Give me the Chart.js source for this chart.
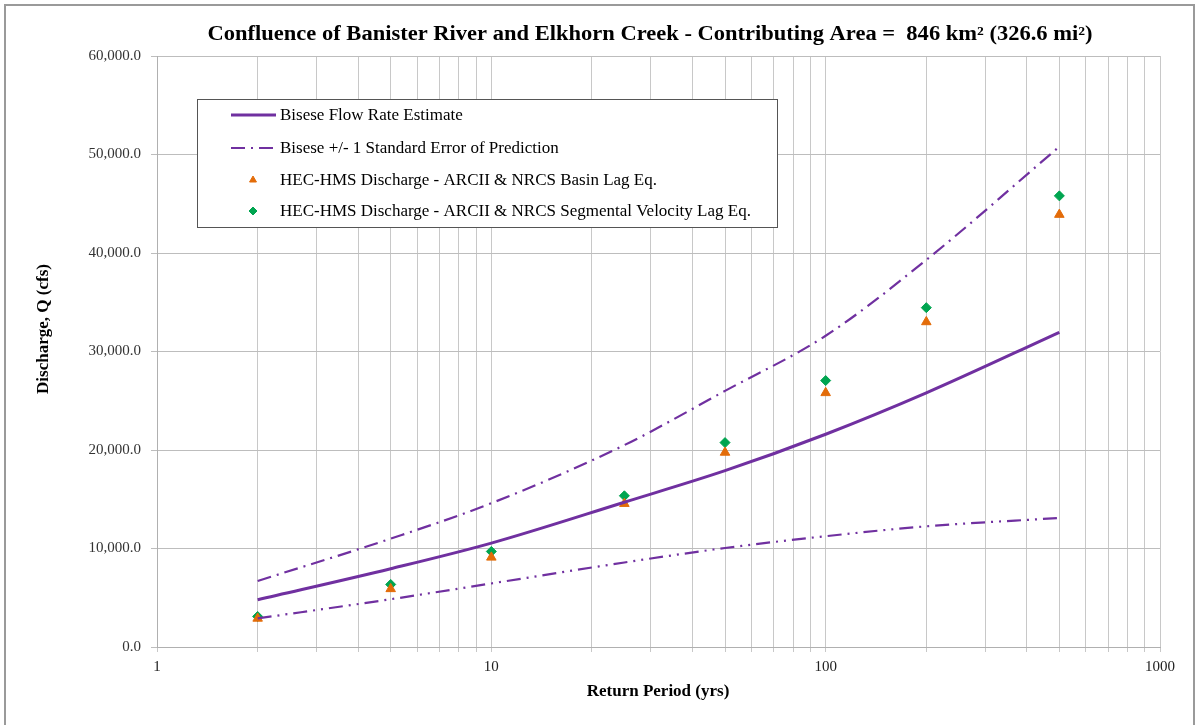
<!DOCTYPE html>
<html><head><meta charset="utf-8">
<script src="https://cdn.jsdelivr.net/npm/chart.js@4.4.1/dist/chart.umd.min.js"></script>
<style>html,body{margin:0;padding:0;background:#fff}#wrap{position:relative;width:1198px;height:725px}</style>
</head><body><div id="wrap"><canvas id="c" width="1198" height="725"></canvas></div>
<script>
const returnPeriods = [2, 5, 10, 25, 50, 100, 200, 500];
const biseseEstimate = [4800, 7950, 10550, 14700, 17900, 21600, 25800, 31950];
const biseseUpper = [6700, 11000, 14600, 20500, 26000, 31600, 39300, 50800];
const biseseLower = [2900, 4850, 6450, 8580, 10050, 11250, 12250, 13100];
const hmsBasinLag = [2900, 5900, 9100, 14550, 19750, 25800, 33000, 43900];
const hmsSegmental = [3100, 6350, 9700, 15350, 20750, 27050, 34450, 45800];
const xTickLabels = ['1', '10', '100', '1000'];
const yTickLabels = ['0.0', '10,000.0', '20,000.0', '30,000.0', '40,000.0', '50,000.0', '60,000.0'];
const chartTitle = 'Confluence of Banister River and Elkhorn Creek - Contributing Area =  846 km\u00B2 (326.6 mi\u00B2)';
const yAxisTitle = 'Discharge, Q (cfs)';
const xAxisTitle = 'Return Period (yrs)';

const pts = arr => returnPeriods.map((x, i) => ({x: x, y: arr[i]}));
const PURPLE = '#7030A0';
const serif = '"Liberation Serif", "DejaVu Serif", serif';

const frame = {
  id: 'frame',
  beforeDraw(chart) {
    const ctx = chart.ctx;
    ctx.save();
    ctx.fillStyle = '#fff';
    ctx.fillRect(0, 0, chart.width, chart.height);
    ctx.strokeStyle = '#9a9a9a';
    ctx.lineWidth = 2;
    ctx.beginPath();
    ctx.moveTo(5, 730); ctx.lineTo(5, 5); ctx.lineTo(1194, 5); ctx.lineTo(1194, 730);
    ctx.stroke();
    ctx.restore();
  }
};

const texts = {
  id: 'texts',
  afterDraw(chart) {
    const ctx = chart.ctx;
    ctx.save();
    ctx.fillStyle = '#000';
    ctx.textAlign = 'center';
    // chart title
    ctx.font = 'bold 20px ' + serif;
    ctx.textBaseline = 'alphabetic';
    const w = ctx.measureText(chartTitle).width;
    ctx.save();
    ctx.translate(650, 40);
    ctx.scale(885 / w, 1);
    ctx.fillText(chartTitle, 0, 0);
    ctx.restore();
    // y axis title
    ctx.font = 'bold 17px ' + serif;
    ctx.textBaseline = 'middle';
    ctx.save();
    ctx.translate(44, 329);
    ctx.rotate(-Math.PI / 2);
    ctx.fillText(yAxisTitle, 0, 0);
    ctx.restore();
    // x axis title
    ctx.fillText(xAxisTitle, 658, 692);
    ctx.restore();
  }
};

const boxLegend = {
  id: 'boxLegend',
  afterDraw(chart) {
    const ctx = chart.ctx;
    const L = 197, T = 99, W = 580, H = 128;
    ctx.save();
    ctx.fillStyle = '#fff';
    ctx.fillRect(L, T, W, H);
    ctx.strokeStyle = '#555';
    ctx.lineWidth = 1;
    ctx.strokeRect(L + 0.5, T + 0.5, W, H);
    const items = [
      {ds: 0, y: 115},
      {ds: 1, y: 148},
      {ds: 3, y: 180},
      {ds: 4, y: 211}
    ];
    ctx.font = '17px ' + serif;
    ctx.textBaseline = 'middle';
    items.forEach(it => {
      const d = chart.data.datasets[it.ds];
      if (d.showLine) {
        ctx.strokeStyle = d.borderColor;
        ctx.lineWidth = d.borderWidth;
        ctx.setLineDash(d.borderDash || []);
        ctx.beginPath();
        ctx.moveTo(231, it.y); ctx.lineTo(276, it.y);
        ctx.stroke();
        ctx.setLineDash([]);
      } else {
        ctx.fillStyle = d.backgroundColor;
        ctx.strokeStyle = d.borderColor;
        ctx.lineWidth = 1;
        Chart.helpers.drawPoint(ctx, {
          pointStyle: d.pointStyle, radius: 4, rotation: 0, borderWidth: 1
        }, 253, it.y);
      }
      ctx.fillStyle = '#000';
      ctx.fillText(d.label, 280, it.y + 1);
    });
    ctx.restore();
  }
};

new Chart(document.getElementById('c'), {
  type: 'scatter',
  data: {
    datasets: [
      {label: 'Bisese Flow Rate Estimate', data: pts(biseseEstimate), showLine: true,
       borderColor: PURPLE, backgroundColor: PURPLE, borderWidth: 3, pointRadius: 0,
       cubicInterpolationMode: 'monotone'},
      {label: 'Bisese +/- 1 Standard Error of Prediction', data: pts(biseseUpper), showLine: true,
       borderColor: PURPLE, backgroundColor: PURPLE, borderWidth: 2.2, borderDash: [14, 6, 2, 6], pointRadius: 0,
       cubicInterpolationMode: 'monotone'},
      {label: 'Bisese -1 SE', data: pts(biseseLower), showLine: true,
       borderColor: PURPLE, backgroundColor: PURPLE, borderWidth: 2.2, borderDash: [14, 6, 2, 6, 2, 6], pointRadius: 0,
       cubicInterpolationMode: 'monotone'},
      {label: 'HEC-HMS Discharge - ARCII & NRCS Basin Lag Eq.', data: pts(hmsBasinLag), showLine: false,
       pointStyle: 'triangle', pointRadius: 5.5, borderColor: '#E36C09', backgroundColor: '#E36C09', borderWidth: 1},
      {label: 'HEC-HMS Discharge - ARCII & NRCS Segmental Velocity Lag Eq.', data: pts(hmsSegmental), showLine: false,
       pointStyle: 'rectRot', pointRadius: 5, borderColor: '#00A550', backgroundColor: '#00A550', borderWidth: 1}
    ]
  },
  options: {
    responsive: false,
    animation: false,
    layout: {padding: {left: 34, right: 38, top: 56, bottom: 8}},
    plugins: {
      legend: {display: false},
      tooltip: {enabled: false},
      title: {display: false}
    },
    scales: {
      x: {
        type: 'logarithmic', min: 1, max: 1000,
        afterFit: s => { s.height = 70; },
        afterBuildTicks: s => {
          const t = [];
          [1, 10, 100].forEach(d => { for (let k = 1; k < 10; k++) t.push({value: d * k}); });
          t.push({value: 1000});
          s.ticks = t;
        },
        grid: {color: '#c8c8c8', lineWidth: 1, tickLength: 5, drawTicks: true},
        border: {color: '#b0b0b0', width: 1},
        ticks: {
          autoSkip: false, maxRotation: 0, padding: 6,
          color: '#222', font: {family: serif, size: 15},
          callback: v => { const i = [1, 10, 100, 1000].indexOf(v); return i >= 0 ? xTickLabels[i] : ''; }
        },
        title: {display: false}
      },
      y: {
        min: 0, max: 60000,
        afterFit: s => { s.width = 123; },
        grid: {color: '#bdbdbd', lineWidth: 1, tickLength: 6},
        border: {color: '#b0b0b0', width: 1},
        ticks: {
          stepSize: 10000, padding: 10, color: '#333', font: {family: serif, size: 15},
          callback: v => yTickLabels[Math.round(v / 10000)]
        },
        title: {display: false}
      }
    }
  },
  plugins: [frame, boxLegend, texts]
});
</script></body></html>
